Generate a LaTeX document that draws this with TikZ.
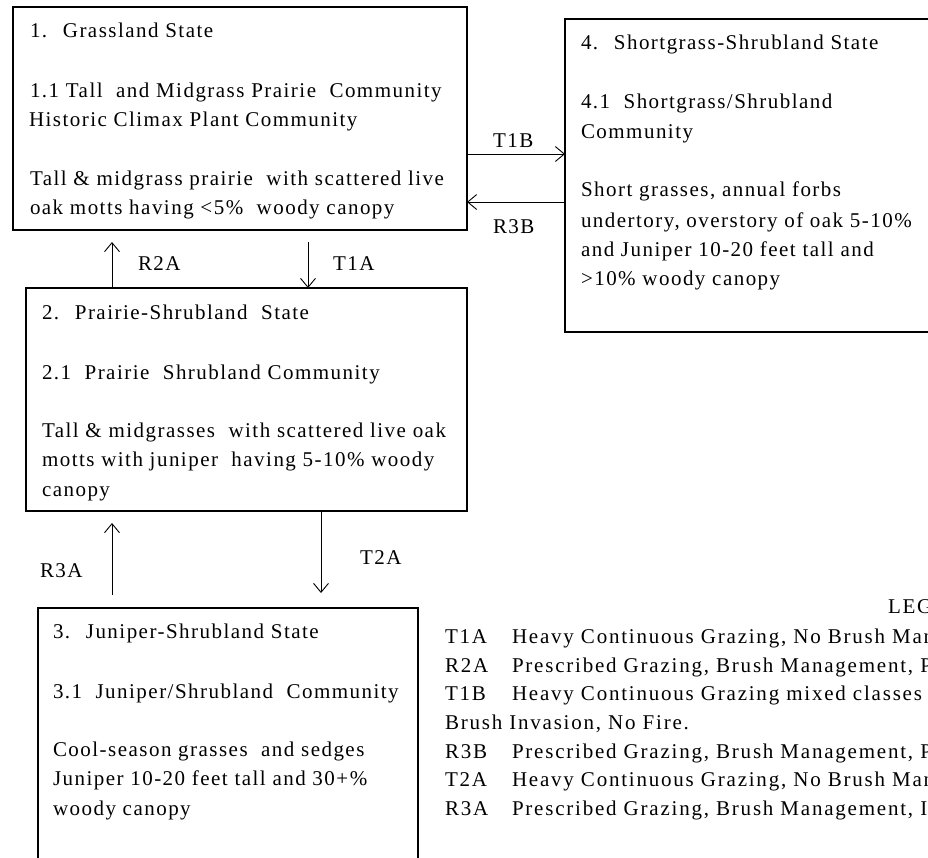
\documentclass[tikz,border=0pt]{standalone}
\usepackage{fontspec}
\setmainfont{Liberation Serif}[LetterSpace=7]
\usetikzlibrary{arrows.meta}
\tikzset{
  box/.style={draw, line width=2.5pt, inner sep=0pt, outer sep=0pt, anchor=north west},
  txt/.style={anchor=base west, inner sep=0pt, outer sep=0pt, font=\fontsize{21}{24}\selectfont},
  legtxt/.style={txt, font=\fontsize{21}{24}\selectfont\addfontfeature{LetterSpace=8.5}},
  arr/.style={line width=0.9pt, -{Straight Barb[length=9pt,width=15pt,line width=0.9pt]}}
}
\begin{document}
\begin{tikzpicture}[x=1pt,y=-1pt]
\useasboundingbox (0,0) rectangle (928,857);
\clip (0,0) rectangle (928,857);
\fill[white] (0,0) rectangle (928,857);
% boxes
\node[box, minimum width=454pt, minimum height=223pt] (b1) at (13,7) {};
\node[box, minimum width=420pt, minimum height=313pt] (b4) at (565,19) {};
\node[box, minimum width=441pt, minimum height=223pt] (b2) at (26,288) {};
\node[box, minimum width=380pt, minimum height=300pt] (b3) at (38,608) {};
% box 1 text
\node[txt] (b1l1) at (30,37) {1.~ Grassland State};
\node[txt] (b1l2) at (30,97) {1.1 Tall~ and Midgrass Prairie~ Community};
\node[txt] (b1l3) at (29,126) {Historic Climax Plant Community};
\node[txt] (b1l4) at (30,185) {Tall \& midgrass prairie~ with scattered live};
\node[txt] (b1l5) at (30,214) {oak motts having <5\%~ woody canopy};
% box 4 text
\node[txt] (b4l1) at (581,49) {4.~ Shortgrass-Shrubland State};
\node[txt] (b4l2) at (581,108) {4.1~ Shortgrass/Shrubland};
\node[txt] (b4l3) at (581,138) {Community};
\node[txt] (b4l4) at (581,196) {Short grasses, annual forbs};
\node[txt] (b4l5) at (581,227) {undertory, overstory of oak 5-10\%};
\node[txt] (b4l6) at (581,256) {and Juniper 10-20 feet tall and};
\node[txt] (b4l7) at (581,285) {>10\% woody canopy};
% box 2 text
\node[txt] (b2l1) at (42,319) {2.~ Prairie-Shrubland~ State};
\node[txt] (b2l2) at (42,379) {2.1~ Prairie~ Shrubland Community};
\node[txt] (b2l3) at (42,437) {Tall \& midgrasses~ with scattered live oak};
\node[txt] (b2l4) at (42,466) {motts with juniper~ having 5-10\% woody};
\node[txt] (b2l5) at (42,496) {canopy};
% box 3 text
\node[txt] (b3l1) at (53,638) {3.~ Juniper-Shrubland State};
\node[txt] (b3l2) at (53,698) {3.1~ Juniper/Shrubland~ Community};
\node[txt] (b3l3) at (53,756) {Cool-season grasses~ and sedges};
\node[txt] (b3l4) at (53,785) {Juniper 10-20 feet tall and 30+\%};
\node[txt] (b3l5) at (53,815) {woody canopy};
% connectors
\coordinate (r2aEnd) at (112,242);
\coordinate (t1aStart) at (308,242);
\coordinate (t1bY) at (0,154);
\coordinate (r3bY) at (0,202);
\coordinate (r3aStart) at (112,595);
\coordinate (r3aEnd) at (112,523);
\coordinate (t2aEnd) at (321,593);
\draw[arr] (b2.north -| r2aEnd) -- (r2aEnd);
\draw[arr] (t1aStart) -- (t1aStart |- b2.north);
\draw[arr] (b1.east |- t1bY) -- (b4.west |- t1bY);
\draw[arr] (b4.west |- r3bY) -- (b1.east |- r3bY);
\draw[arr] (r3aStart) -- (r3aEnd);
\draw[arr] (b2.south -| t2aEnd) -- (t2aEnd);
% connector labels
\node[txt] (lR2A) at (138,270) {R2A};
\node[txt] (lT1A) at (333,270) {T1A};
\node[txt] (lT1B) at (493,147) {T1B};
\node[txt] (lR3B) at (493,233) {R3B};
\node[txt] (lR3A) at (40,577) {R3A};
\node[txt] (lT2A) at (360,564) {T2A};
% legend
\node[legtxt] (leg) at (888,613) {LEGEND};
\node[legtxt] (k1) at (445,643) {T1A};
\node[legtxt] (d1) at (512,643) {Heavy Continuous Grazing, No Brush Management};
\node[legtxt] (k2) at (445,672) {R2A};
\node[legtxt] (d2) at (512,672) {Prescribed Grazing, Brush Management, Prescribed};
\node[legtxt] (k3) at (445,700) {T1B};
\node[legtxt] (d3) at (512,700) {Heavy Continuous Grazing mixed classes};
\node[legtxt] (d3b) at (445,729) {Brush Invasion, No Fire.};
\node[legtxt] (k4) at (445,758) {R3B};
\node[legtxt] (d4) at (512,758) {Prescribed Grazing, Brush Management, Prescribed};
\node[legtxt] (k5) at (445,786) {T2A};
\node[legtxt] (d5) at (512,786) {Heavy Continuous Grazing, No Brush Management};
\node[legtxt] (k6) at (445,815) {R3A};
\node[legtxt] (d6) at (512,815) {Prescribed Grazing, Brush Management, Integrated};
\end{tikzpicture}
\end{document}
